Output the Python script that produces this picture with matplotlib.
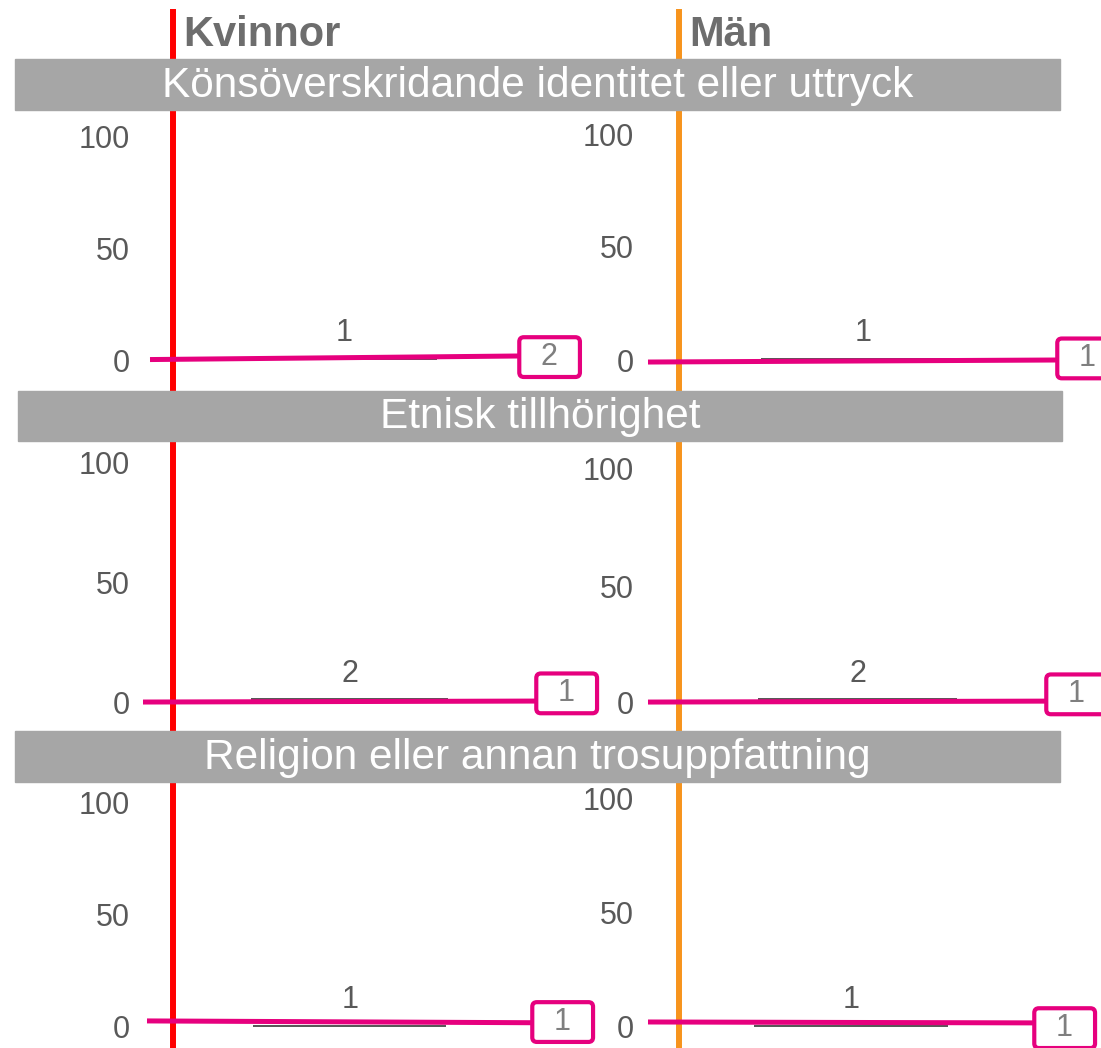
import matplotlib
matplotlib.use("Agg")
import matplotlib.pyplot as plt
import matplotlib.transforms as mtransforms
from matplotlib.patches import Rectangle
from matplotlib.lines import Line2D

plt.rcParams['font.family'] = ['Liberation Sans', 'DejaVu Sans']

# data
kategorier = ['Könsöverskridande identitet eller uttryck', 'Etnisk tillhörighet',
              'Religion eller annan trosuppfattning']
grupper = ['Kvinnor', 'Män']
staplar = {'Kvinnor': [1, 2, 1], 'Män': [1, 2, 1]}
linje_start = {'Kvinnor': [0.2, 0.4, 2.7], 'Män': [-0.9, 0.4, 2.2]}
linje_slut = {'Kvinnor': [1.8, 0.8, 1.9], 'Män': [0.0, 0.8, 1.8]}
ruta_varde = {'Kvinnor': [1.3, 4.0, 2.2], 'Män': [0.7, 3.7, -0.5]}
ruta_text = {'Kvinnor': [2, 1, 1], 'Män': [1, 1, 1]}
yticks = [0, 50, 100]

# layout (pixel)
W, H = 1101, 1048
noll_px = [360, 703, 1027]
hundra_px = {'Kvinnor': [137, 462, 802], 'Män': [134, 469, 799]}
ax_x = {'Kvinnor': [(150, 520), (143, 537), (147, 533)],
        'Män': [(648, 1058), (648, 1047), (648, 1035)]}
band_px = [(15, 59, 1060, 110), (18, 391, 1062, 441), (15, 731, 1060, 782)]
grp_x = {'Kvinnor': 173, 'Män': 679}
grp_farg = {'Kvinnor': '#ff0000', 'Män': '#f7941d'}
etikett_kant = {'Kvinnor': 130, 'Män': 634}   # högerkant för y-etiketter

rosa = '#e6007e'
gra_text = '#595959'

fig = plt.figure(figsize=(W / 100, H / 100), dpi=100)

def fx(px):
    return px / W

def fy(px):
    return 1 - px / H

# vertikala linjer och rubriker
for g in grupper:
    fig.add_artist(Line2D([fx(grp_x[g])] * 2, [fy(12), fy(1048)], transform=fig.transFigure,
                          color=grp_farg[g], lw=4.3, zorder=-3))
    fig.text(fx(grp_x[g] + 10), fy(46), g, ha='left', va='baseline', fontsize=30,
             fontweight='bold', color='#6d6d6d')

# grå band med kategorinamn
for (x0, y0, x1, y1), namn in zip(band_px, kategorier):
    fig.add_artist(Rectangle((fx(x0), fy(y1)), fx(x1 - x0), (y1 - y0) / H,
                             transform=fig.transFigure, color='#a6a6a6', zorder=-2))
    fig.text(fx((x0 + x1) / 2), fy((y0 + y1) / 2 + 1), namn, ha='center', va='center',
             color='white', fontsize=30.5, zorder=-1)

for i in range(len(kategorier)):
    for g in grupper:
        x0, x1 = ax_x[g][i]
        b, t = noll_px[i], hundra_px[g][i]
        ax = fig.add_axes([fx(x0), fy(b), fx(x1 - x0), (b - t) / H])
        ax.patch.set_visible(False)
        ax.set_xlim(-1.05, 0.95)
        ax.set_ylim(0, 100)
        for s in ax.spines.values():
            s.set_visible(False)
        ax.set_xticks([])
        ax.set_yticks(yticks)
        ax.tick_params(axis='y', length=0, pad=(x0 - etikett_kant[g]) * 0.72,
                       labelsize=22, labelcolor=gra_text)

        v = staplar[g][i]
        ax.bar(0, v, width=1, color='#595959', clip_on=False)
        ax.annotate(str(v), xy=(0, v), xytext=(0, 12), textcoords='offset points',
                    ha='center', va='baseline', fontsize=22, color=gra_text)

        trans = mtransforms.blended_transform_factory(ax.transAxes, ax.transData)
        ax.plot([0, 1], [linje_start[g][i], linje_slut[g][i]], color=rosa, lw=3.6,
                transform=trans, clip_on=False, solid_capstyle='butt')
        ax.annotate('  %d  ' % ruta_text[g][i], xy=(1, ruta_varde[g][i]), xycoords=trans,
                    xytext=(3, 0), textcoords='offset points',
                    ha='left', va='center', fontsize=22, color='#7f7f7f', annotation_clip=False,
                    bbox=dict(boxstyle='round,pad=0.16,rounding_size=0.15', fc='white',
                              ec=rosa, lw=3))

fig.savefig('out.png', dpi=100)
